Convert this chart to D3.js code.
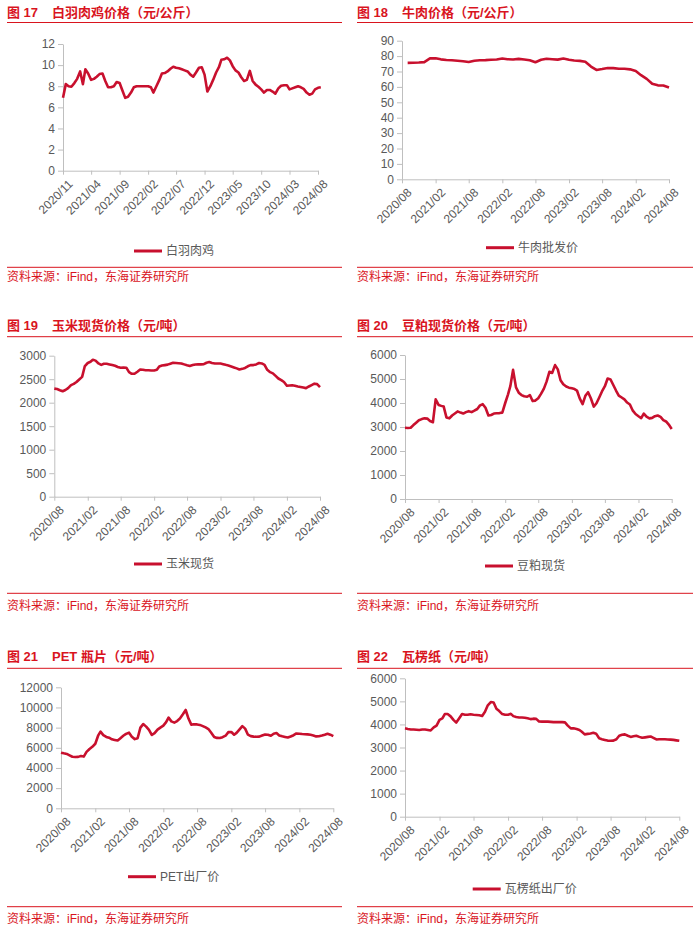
<!DOCTYPE html>
<html><head><meta charset="utf-8">
<script src="https://cdn.jsdelivr.net/npm/d3@7"></script>
<style>
body{margin:0;background:#fff;}
svg{display:block;font-family:"Liberation Sans",Arial,"Noto Sans CJK SC",sans-serif;}
</style></head><body>
<svg id="c" width="700" height="934"></svg>
<script>
// ---------- DATA ----------
const broilerValues = [6.9,8.2,8.0,7.95,8.3,8.7,9.4,8.2,9.6,9.2,8.6,8.7,8.9,9.15,9.2,8.5,7.9,7.9,8.0,8.4,8.3,7.6,6.9,7.0,7.4,7.9,8.0,8.0,8.0,8.0,8.0,7.9,7.4,7.95,8.55,9.2,9.25,9.4,9.65,9.85,9.75,9.7,9.6,9.5,9.4,9.1,8.9,9.3,9.75,9.8,9.1,7.5,8.0,8.6,9.3,9.8,10.5,10.55,10.7,10.45,9.9,9.5,9.3,8.85,8.5,8.6,9.45,8.5,8.15,7.95,7.7,7.4,7.65,7.65,7.5,7.3,7.8,8.05,8.1,8.1,7.7,7.8,7.9,8.0,7.9,7.75,7.4,7.2,7.3,7.7,7.85,7.9];
const beefValues = [75.6,75.7,75.8,76.1,78.5,78.6,77.9,77.5,77.3,77.0,76.7,76.2,77.0,77.3,77.4,77.6,77.8,78.4,78.0,77.8,78.2,77.8,77.3,76.0,77.6,78.3,78.0,77.7,78.4,77.6,77.1,76.9,76.3,73.2,71.0,71.6,72.3,72.2,71.8,71.8,71.4,70.3,67.6,65.2,62.0,61.0,60.9,59.6];
const cornValues = [2300,2290,2265,2245,2270,2310,2375,2400,2440,2495,2550,2780,2845,2870,2915,2895,2835,2805,2830,2830,2815,2800,2785,2760,2745,2750,2745,2650,2615,2615,2660,2705,2700,2690,2690,2685,2685,2700,2770,2790,2800,2810,2830,2850,2845,2840,2835,2815,2795,2780,2800,2812,2815,2815,2820,2850,2865,2845,2835,2835,2835,2820,2805,2790,2770,2750,2730,2705,2720,2740,2775,2800,2800,2815,2845,2835,2805,2700,2650,2625,2570,2515,2480,2440,2360,2365,2370,2360,2345,2333,2322,2310,2345,2375,2405,2395,2330];
const soymealValues = [2970,2960,2970,3080,3180,3280,3330,3360,3350,3250,3200,4150,3920,3880,3850,3400,3360,3480,3560,3650,3600,3560,3620,3660,3620,3680,3750,3900,3950,3800,3480,3500,3560,3570,3580,3600,4000,4350,4700,5380,4650,4430,4330,4280,4260,4330,4080,4100,4200,4380,4600,4900,5300,5250,5580,5400,4950,4780,4690,4640,4610,4580,4520,4190,3950,4300,4450,4200,3850,3990,4230,4480,4700,5020,4980,4750,4520,4310,4230,4150,4020,3940,3680,3540,3450,3370,3560,3430,3360,3380,3450,3480,3420,3290,3230,3100,2920];
const petValues = [5520,5450,5390,5250,5110,5080,5100,5180,5130,5600,5880,6100,6400,7200,7600,7260,7080,7000,6840,6780,6720,6950,7190,7380,7500,7100,6860,6950,8000,8350,8100,7780,7270,7450,7800,8000,8200,8550,9000,8620,8500,8650,8900,9300,9750,8900,8300,8340,8320,8270,8150,8020,7860,7500,7080,6980,6970,7050,7200,7550,7560,7300,7480,7800,8150,7900,7300,7160,7110,7100,7110,7220,7320,7300,7200,7400,7470,7230,7140,7080,7020,7120,7250,7420,7400,7370,7350,7330,7290,7220,7130,7150,7220,7300,7400,7300,7150];
const paperValues = [3830,3800,3780,3780,3770,3760,3780,3780,3760,3740,3870,3950,4200,4260,4450,4450,4350,4200,4080,4260,4450,4420,4420,4440,4420,4410,4400,4370,4550,4830,4970,4950,4680,4580,4450,4420,4420,4460,4360,4320,4300,4300,4290,4270,4230,4250,4240,4130,4120,4120,4120,4110,4100,4100,4100,4100,4090,3950,3830,3830,3800,3760,3680,3570,3590,3610,3640,3600,3400,3360,3330,3300,3290,3300,3360,3510,3550,3570,3510,3460,3490,3510,3460,3420,3440,3460,3480,3420,3350,3360,3360,3355,3350,3340,3330,3310,3290];

const broilerXTicks = ["2020/11","2021/04","2021/09","2022/02","2022/07","2022/12","2023/05","2023/10","2024/03","2024/08"];
const halfYearXTicks = ["2020/08","2021/02","2021/08","2022/02","2022/08","2023/02","2023/08","2024/02","2024/08"];
const broilerYTicks = [0,2,4,6,8,10,12];
const beefYTicks = [0,10,20,30,40,50,60,70,80,90];
const cornYTicks = [0,500,1000,1500,2000,2500,3000];
const soymealYTicks = [0,1000,2000,3000,4000,5000,6000];
const petYTicks = [0,2000,4000,6000,8000,10000,12000];
const paperYTicks = [0,1000,2000,3000,4000,5000,6000];

const figLabels = ["图 17","图 18","图 19","图 20","图 21","图 22"];
const titles = ["白羽肉鸡价格（元/公斤）","牛肉价格（元/公斤）","玉米现货价格（元/吨）","豆粕现货价格（元/吨）","PET 瓶片（元/吨）","瓦楞纸（元/吨）"];
const legendNames = ["白羽肉鸡","牛肉批发价","玉米现货","豆粕现货","PET出厂价","瓦楞纸出厂价"];
const sourceText = "资料来源：iFind，东海证券研究所";

// ---------- LAYOUT ----------
const RED = "#d9141e", LINE = "#c8102e", AX = "#bfbfbf", TXT = "#595959";
const panels = [
  {values:broilerValues, start:[2020,10], step:"half", xTicks:broilerXTicks, yTicks:broilerYTicks,
   left:7, right:342, titleY:17, ruleY:22.5, x0:63, x1:318, yTop:44, yBot:170.7, legX:134, legY:251, srcRule:267.3, srcY:281},
  {values:beefValues, start:[2020,8], step:"month", xTicks:halfYearXTicks, yTicks:beefYTicks,
   left:357, right:693, titleY:17, ruleY:22.5, x0:402, x1:669, yTop:40.7, yBot:179.3, legX:486, legY:247.7, srcRule:267.3, srcY:281},
  {values:cornValues, start:[2020,7], step:"half", xTicks:halfYearXTicks, yTicks:cornYTicks,
   left:7, right:342, titleY:330, ruleY:336.7, x0:54.3, x1:320, yTop:355.7, yBot:496.7, legX:134, legY:564, srcRule:593.3, srcY:610},
  {values:soymealValues, start:[2020,7], step:"half", xTicks:halfYearXTicks, yTicks:soymealYTicks,
   left:357, right:693, titleY:330, ruleY:336.7, x0:405, x1:671.7, yTop:355, yBot:499, legX:485, legY:566, srcRule:593.3, srcY:610},
  {values:petValues, start:[2020,7], step:"half", xTicks:halfYearXTicks, yTicks:petYTicks,
   left:7, right:342, titleY:661, ruleY:668.3, x0:61, x1:333.3, yTop:687.3, yBot:808.3, legX:128, legY:876.7, srcRule:906.7, srcY:923},
  {values:paperValues, start:[2020,7], step:"half", xTicks:halfYearXTicks, yTicks:paperYTicks,
   left:357, right:693, titleY:661, ruleY:668.3, x0:405, x1:679.3, yTop:678.3, yBot:816.7, legX:472.7, legY:889, srcRule:906.7, srcY:923}
];

const svg = d3.select("#c");
svg.append("rect").attr("width",700).attr("height",934).attr("fill","#fff");
const parseTick = d3.timeParse("%Y/%m");
const fmtTick = d3.timeFormat("%Y/%m");

panels.forEach((p, k) => {
  const g = svg.append("g");
  // title
  g.append("text").attr("x", p.left).attr("y", p.titleY).attr("fill", RED)
    .attr("font-size", 13).attr("font-weight", "bold").text(figLabels[k]);
  g.append("text").attr("x", p.left + 45).attr("y", p.titleY).attr("fill", RED)
    .attr("font-size", 13).attr("font-weight", "bold").text(titles[k]);
  g.append("line").attr("x1", p.left).attr("x2", p.right).attr("y1", p.ruleY).attr("y2", p.ruleY)
    .attr("stroke", RED).attr("stroke-width", 1);

  const tickDates = p.xTicks.map(parseTick);
  const x = d3.scaleTime().domain([tickDates[0], tickDates[tickDates.length-1]]).range([p.x0, p.x1]);
  const y = d3.scaleLinear().domain([0, d3.max(p.yTicks)]).range([p.yBot, p.yTop]);

  const data = p.values.map((v, i) => {
    const d = p.step === "half"
      ? new Date(p.start[0], p.start[1] + Math.floor(i/2), i % 2 ? 16 : 1)
      : new Date(p.start[0], p.start[1] + i, 1);
    return {d, v};
  });

  // y axis
  const ya = g.append("g").attr("transform", `translate(${p.x0},0)`)
    .call(d3.axisLeft(y).tickValues(p.yTicks).tickFormat(d3.format("d")).tickSize(5).tickPadding(3).tickSizeOuter(0));
  ya.selectAll("path,line").attr("stroke", AX);
  ya.selectAll("text").attr("fill", TXT).attr("font-size", 12).attr("font-family", "Liberation Sans, Arial, sans-serif");

  // x axis
  const xa = g.append("g").attr("transform", `translate(0,${p.yBot})`)
    .call(d3.axisBottom(x).tickValues(tickDates).tickFormat(fmtTick).tickSize(4).tickSizeOuter(0));
  xa.selectAll("path,line").attr("stroke", AX);
  xa.selectAll(".tick text").attr("fill", TXT).attr("font-size", 12).attr("font-family", "Liberation Sans, Arial, sans-serif")
    .attr("text-anchor", "end").attr("dy", "0.71em").attr("y", 0).attr("x", 0)
    .attr("transform", "translate(4,8) rotate(-45)");

  // line
  g.append("path").datum(data)
    .attr("fill", "none").attr("stroke", LINE).attr("stroke-width", 2.6).attr("stroke-linejoin", "round")
    .attr("d", d3.line().x(d => x(d.d)).y(d => y(d.v)));

  // legend
  g.append("line").attr("x1", p.legX).attr("x2", p.legX + 28).attr("y1", p.legY).attr("y2", p.legY)
    .attr("stroke", LINE).attr("stroke-width", 3);
  g.append("text").attr("x", p.legX + 32).attr("y", p.legY).attr("dominant-baseline", "central")
    .attr("fill", TXT).attr("font-size", 12).text(legendNames[k]);

  // source
  g.append("line").attr("x1", p.left).attr("x2", p.right).attr("y1", p.srcRule).attr("y2", p.srcRule)
    .attr("stroke", RED).attr("stroke-width", 1);
  g.append("text").attr("x", p.left).attr("y", p.srcY).attr("fill", RED).attr("font-size", 12).text(sourceText);
});
</script>
</body></html>
